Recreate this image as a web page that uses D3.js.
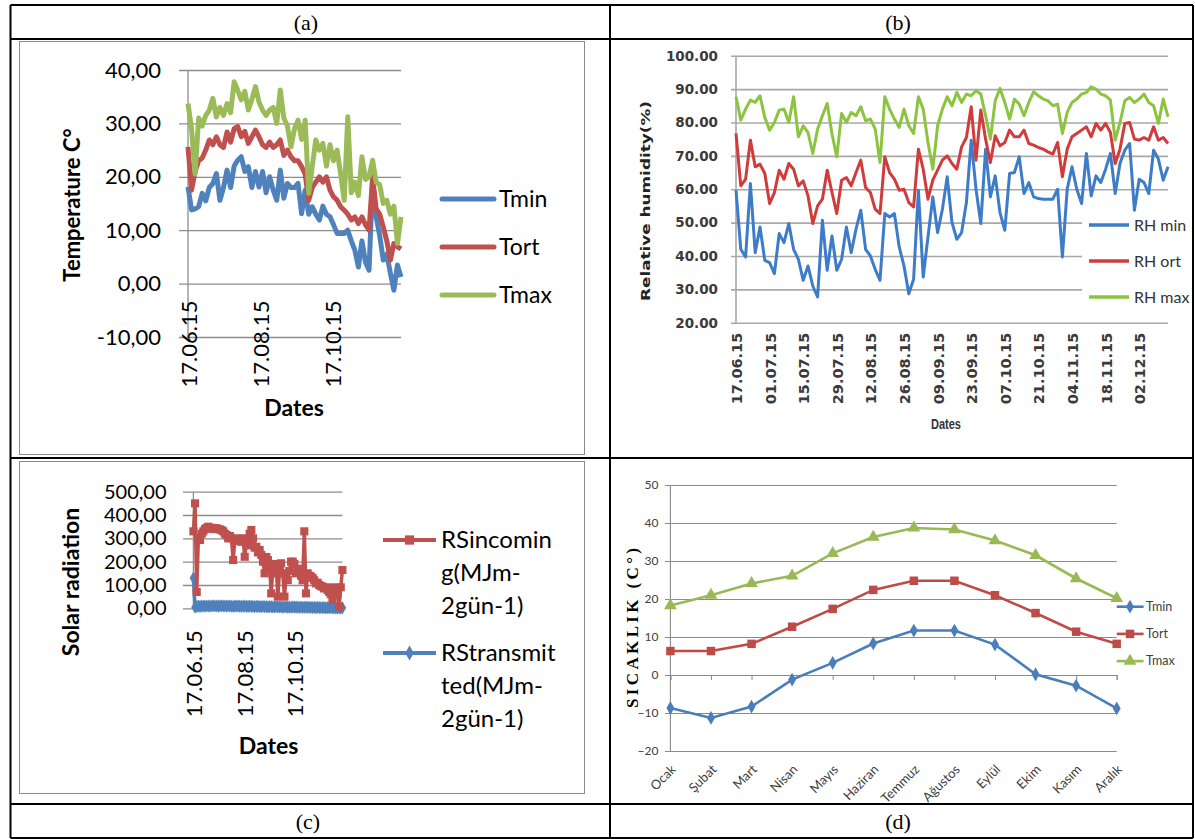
<!DOCTYPE html>
<html>
<head>
<meta charset="utf-8">
<script src="https://cdn.jsdelivr.net/npm/d3@7"></script>
<style>
  body { margin: 0; background: #fff; }
</style>
</head>
<body>
<div id="app"></div>
<script>
const width = 1195;
const height = 839;

// (a) daily temperatures, read every 3rd day from 17.06.15
const aDays = [0, 3, 6, 9, 12, 15, 18, 21, 24, 27, 30, 33, 36, 39, 42, 45, 48, 51, 54, 57, 60, 63, 66, 69, 72, 75, 78, 81, 84, 87,
  90, 93, 96, 99, 102, 105, 108, 111, 114, 117, 120, 123, 126, 129, 132, 135, 138, 141, 144, 147, 150, 153, 156, 159, 162, 165, 168, 171, 174, 177, 180];
const aTmax = [33.7, 29.0, 20.5, 31.0, 29.5, 31.5, 32.5, 34.7, 31.2, 33.0, 31.5, 33.7, 32.0, 37.8, 36.2, 34.4, 36.0, 32.5, 34.5, 36.9,
  34.0, 32.5, 31.5, 32.5, 33.0, 30.0, 36.25, 31.0, 29.5, 25.6, 29.0, 30.6, 27.0, 30.6, 16.9, 21.9, 26.9, 25.0, 26.25, 22.0,
  26.0, 23.0, 25.0, 20.5, 15.6, 31.25, 17.0, 19.0, 16.5, 23.75, 19.5, 20.0, 23.1, 19.0, 18.5, 15.0, 15.6, 13.0, 14.5, 7.5, 12.5];
const aTort = [25.6, 17.5, 21.0, 23.0, 23.5, 25.0, 26.9, 26.0, 27.5, 26.0, 25.5, 28.4, 26.5, 29.0, 29.4, 27.5, 28.5, 26.25, 27.5, 28.75,
  27.5, 26.0, 25.5, 26.5, 25.5, 26.0, 26.9, 24.0, 25.0, 23.75, 23.0, 23.0, 21.9, 20.5, 15.6, 18.0, 19.0, 20.0, 19.0, 20.0,
  17.5, 16.25, 15.6, 14.4, 13.75, 13.0, 11.9, 12.5, 11.25, 12.5, 11.0, 10.0, 20.0, 14.0, 13.0, 10.6, 8.0, 4.4, 7.5, 6.9, 6.5];
const aTmin = [18.1, 13.8, 14.0, 14.4, 16.9, 15.5, 18.0, 18.75, 20.6, 15.6, 18.0, 21.25, 18.0, 22.0, 23.1, 23.75, 21.0, 21.9, 18.0, 21.0,
  18.1, 21.0, 17.0, 20.0, 17.5, 15.6, 21.25, 16.0, 18.75, 18.0, 18.0, 18.75, 13.1, 17.5, 13.0, 14.4, 13.0, 11.9, 14.5, 13.0,
  12.5, 11.0, 9.4, 9.4, 9.4, 10.0, 8.0, 6.25, 3.1, 8.0, 4.0, 2.5, 19.4, 12.5, 9.0, 4.4, 5.5, 2.0, -1.25, 3.5, 1.25];
const aDateTicks = ['17.06.15', '17.08.15', '17.10.15'];
const aYTicks = [-10, 0, 10, 20, 30, 40];
const aNames = ['Tmin', 'Tort', 'Tmax'];

// (b) relative humidity, read every 2nd day from 17.06.15
const bcDays = [0, 2, 4, 6, 8, 10, 12, 14, 16, 18, 20, 22, 24, 26, 28, 30, 32, 34, 36, 38, 40, 42, 44, 46, 48, 50, 52, 54, 56, 58,
  60, 62, 64, 66, 68, 70, 72, 74, 76, 78, 80, 82, 84, 86, 88, 90, 92, 94, 96, 98, 100, 102, 104, 106, 108, 110, 112, 114, 116, 118,
  120, 122, 124, 126, 128, 130, 132, 134, 136, 138, 140, 142, 144, 146, 148, 150, 152, 154, 156, 158, 160, 162, 164, 166, 168, 170, 172, 174, 176, 178, 180];
const rhMax = [87.7, 80.7, 84.0, 86.7, 86.0, 88.0, 81.5, 77.7, 80.0, 83.7, 84.0, 80.0, 87.7, 75.7, 79.0, 77.0, 70.7, 78.0, 82.0, 85.7,
  76.5, 69.7, 82.7, 80.0, 83.0, 82.0, 84.7, 80.5, 81.0, 78.0, 68.0, 87.7, 84.0, 81.0, 78.5, 84.0, 79.0, 76.7, 87.7, 84.0,
  74.0, 66.0, 79.0, 84.0, 87.7, 85.0, 89.0, 86.0, 88.5, 88.0, 89.5, 88.5, 82.0, 75.0, 86.5, 90.2, 86.0, 81.0, 87.0, 85.5,
  82.0, 86.0, 89.2, 88.0, 87.0, 86.5, 85.0, 85.5, 76.7, 83.0, 86.0, 87.0, 88.5, 89.0, 90.7, 90.0, 88.5, 88.0, 86.7, 74.7,
  80.0, 86.5, 87.5, 86.0, 87.0, 88.5, 86.0, 85.0, 79.7, 87.0, 81.7];
const rhOrt = [76.7, 61.0, 63.0, 74.7, 66.7, 67.5, 64.7, 55.7, 59.0, 65.7, 63.0, 67.7, 66.0, 61.0, 62.5, 58.0, 49.7, 55.0, 57.0, 65.7,
  59.0, 52.7, 62.7, 63.5, 61.0, 65.0, 68.7, 60.5, 59.0, 54.0, 52.7, 69.7, 65.0, 63.0, 59.7, 60.0, 56.0, 54.7, 72.0, 66.0,
  57.0, 62.7, 65.7, 68.7, 70.0, 67.7, 66.0, 72.7, 75.5, 84.7, 68.7, 83.7, 75.0, 68.0, 76.0, 73.0, 74.0, 77.7, 75.7, 75.7,
  77.7, 73.7, 73.2, 72.5, 72.0, 71.2, 70.5, 74.0, 63.7, 72.0, 75.7, 76.7, 77.7, 78.7, 75.7, 79.7, 77.7, 79.7, 77.0, 67.7,
  72.0, 79.7, 80.0, 75.0, 74.7, 75.5, 74.7, 78.7, 74.7, 75.5, 73.7];
const rhMin = [59.7, 42.0, 39.7, 61.7, 41.0, 48.7, 38.7, 38.0, 34.7, 46.7, 44.0, 49.7, 42.0, 39.0, 32.7, 37.0, 31.0, 27.7, 50.7, 35.7,
  46.0, 35.7, 39.0, 48.7, 41.0, 48.0, 53.7, 42.0, 40.0, 36.0, 32.7, 52.7, 51.7, 52.7, 42.7, 37.0, 28.7, 33.0, 59.7, 33.7,
  45.7, 57.7, 47.0, 54.0, 63.7, 50.0, 45.0, 47.0, 56.0, 74.7, 60.0, 49.7, 72.0, 57.7, 64.0, 53.0, 47.7, 64.7, 65.0, 69.7,
  58.7, 62.0, 57.7, 57.2, 57.0, 57.0, 57.0, 60.0, 39.7, 60.0, 66.7, 60.0, 55.7, 70.7, 58.0, 64.0, 62.0, 66.0, 70.7, 58.7,
  67.7, 71.7, 73.7, 53.7, 63.0, 62.0, 58.7, 71.7, 69.0, 62.7, 66.7];
const bDateTicks = ['17.06.15', '01.07.15', '15.07.15', '29.07.15', '12.08.15', '26.08.15', '09.09.15',
  '23.09.15', '07.10.15', '21.10.15', '04.11.15', '18.11.15', '02.12.15'];
const bYTicks = [20, 30, 40, 50, 60, 70, 80, 90, 100];
const bNames = ['RH min', 'RH ort', 'RH max'];

// (c) solar radiation, same day grid as (b)
const rsIncoming = [330, 450, 70, 300, 293, 320, 330, 340, 345, 350, 345, 345, 340, 343, 343, 340, 338, 335, 330, 320,
  314, 300, 310, 300, 207, 290, 300, 295, 290, 285, 300, 221, 280, 270, 320, 336, 300, 260, 264, 240,
  250, 229, 200, 150, 220, 207, 180, 64, 170, 150, 190, 50, 160, 193, 150, 50, 140, 121, 160, 200,
  200, 190, 150, 170, 160, 140, 120, 330, 64, 150, 140, 136, 130, 120, 107, 110, 100, 95, 93, 85,
  90, 79, 70, 60, 36, 90, 80, 60, 7, 90, 164];
const rsTransmitted = [130, 5, 8, 9, 8, 9, 10, 9, 10, 10, 9, 10, 11, 10, 10, 9, 10, 11, 10, 10,
  9, 10, 10, 9, 8, 9, 10, 9, 9, 8, 9, 9, 8, 8, 9, 8, 8, 7, 8, 8,
  7, 7, 8, 7, 7, 6, 7, 7, 6, 6, 7, 6, 6, 6, 5, 6, 6, 5, 5, 5,
  6, 5, 5, 5, 4, 5, 4, 4, 5, 4, 4, 4, 3, 4, 3, 4, 3, 3, 3, 3,
  2, 3, 2, 3, 2, 2, 2, 1, 2, 1, 2];
const cYTicks = [0, 100, 200, 300, 400, 500];
const cLegend = [['RSincomin', 'g(MJm-', '2gün-1)'], ['RStransmit', 'ted(MJm-', '2gün-1)']];

// (d) monthly temperatures
const months = ['Ocak', 'Şubat', 'Mart', 'Nisan', 'Mayıs', 'Haziran', 'Temmuz', 'Ağustos', 'Eylül', 'Ekim', 'Kasım', 'Aralık'];
const dTmin = [-8.7, -11.3, -8.3, -1.2, 3.2, 8.3, 11.7, 11.7, 8.0, 0.2, -2.8, -8.8];
const dTort = [6.3, 6.3, 8.2, 12.7, 17.4, 22.4, 24.8, 24.8, 21.0, 16.3, 11.4, 8.2];
const dTmax = [18.3, 21.0, 24.1, 26.1, 32.0, 36.3, 38.7, 38.3, 35.4, 31.5, 25.4, 20.2];
const dYTicks = [-20, -10, 0, 10, 20, 30, 40, 50];

const startDate = new Date(2015, 5, 17);
const toDate = (d) => d3.timeDay.offset(startDate, d);
const parseDate = d3.timeParse('%d.%m.%y');
const fmtDate = d3.timeFormat('%d.%m.%y');
const trLocale = d3.formatLocale({decimal: ',', thousands: '.', grouping: [3], currency: ['', ''], minus: '-'});
const fmtComma = trLocale.format('.2f');
const fmtDot = d3.format('.2f');

const svg = d3.select('#app').append('svg')
  .attr('width', width)
  .attr('height', height)
  .style('font-family', 'Lato, sans-serif');

svg.append('rect').attr('width', width).attr('height', height).attr('fill', '#fff');

function grid(g, y, ticks, x0, x1, pad, fmt, color, sw) {
  const ax = g.append('g')
    .attr('transform', `translate(${x0},0)`)
    .call(d3.axisLeft(y).tickValues(ticks).tickSize(-(x1 - x0)).tickPadding(pad).tickFormat(fmt));
  ax.select('.domain').remove();
  ax.selectAll('line').attr('stroke', color).attr('stroke-width', sw);
  ax.attr('font-family', null).attr('font-size', null);
  return ax;
}

function dateLabels(g, x, yPos, ticks, pad, fmt) {
  const ax = g.append('g')
    .attr('transform', `translate(0,${yPos})`)
    .call(d3.axisBottom(x).tickValues(ticks.map(parseDate)).tickSize(0).tickFormat(fmt));
  ax.select('.domain').remove();
  ax.attr('font-family', null).attr('font-size', null);
  ax.selectAll('text')
    .attr('transform', 'rotate(-90)')
    .attr('text-anchor', 'end')
    .attr('x', -pad)
    .attr('y', 0)
    .attr('dy', '0.38em');
  return ax;
}

function series(g, x, y, days, values, color, w) {
  return g.append('path')
    .datum(values)
    .attr('fill', 'none')
    .attr('stroke', color)
    .attr('stroke-width', w)
    .attr('stroke-linejoin', 'round')
    .attr('d', d3.line().x((v, i) => x(toDate(days[i]))).y((v) => y(v)));
}

// ---------- (a) ----------
const aColors = ['#4f81bd', '#c0504d', '#9bbb59'];
const ga = svg.append('g');
ga.append('rect').attr('x', 19.5).attr('y', 41.5).attr('width', 565).attr('height', 413)
  .attr('fill', '#fff').attr('stroke', '#8c8c8c');
const xa = d3.scaleTime().domain([toDate(0), toDate(180)]).range([188, 401]);
const ya = d3.scaleLinear().domain([-10, 40]).range([337, 70]);
grid(ga, ya, aYTicks, 179, 401, 18, fmtComma, '#8c8c8c', 1.3)
  .selectAll('text').attr('font-size', 22).attr('fill', '#000');
ga.append('line').attr('x1', 188).attr('x2', 188).attr('y1', 70).attr('y2', 337)
  .attr('stroke', '#8c8c8c').attr('stroke-width', 1.3);
dateLabels(ga, xa, ya(0), aDateTicks, 17, fmtDate)
  .selectAll('text').attr('font-size', 22).attr('fill', '#000');
[aTmin, aTort, aTmax].forEach((vals, i) => series(ga, xa, ya, aDays, vals, aColors[i], 5));
ga.append('text').attr('transform', 'translate(72,205) rotate(-90)')
  .attr('text-anchor', 'middle').attr('dy', '0.35em')
  .attr('font-size', 22).attr('font-weight', 'bold').text('Temperature C°');
ga.append('text').attr('x', 294).attr('y', 408).attr('text-anchor', 'middle').attr('dy', '0.35em')
  .attr('font-size', 23).attr('font-weight', 'bold').text('Dates');
aNames.forEach((name, i) => {
  const ly = 199 + i * 48;
  ga.append('line').attr('x1', 442).attr('x2', 494).attr('y1', ly).attr('y2', ly)
    .attr('stroke', aColors[i]).attr('stroke-width', 5).attr('stroke-linecap', 'round');
  ga.append('text').attr('x', 499).attr('y', ly).attr('dy', '0.35em').attr('font-size', 23).text(name);
});

// ---------- (b) ----------
const bColors = ['#3d7cc9', '#d03c3c', '#8cc43f'];
const gb = svg.append('g');
const xb = d3.scaleTime().domain([toDate(0), toDate(180)]).range([736, 1168]);
const yb = d3.scaleLinear().domain([20, 100]).range([322.7, 55.7]);
grid(gb, yb, bYTicks, 731, 1168, 13, fmtDot, '#a8a8a8', 1.6)
  .selectAll('text').attr('font-family', 'DejaVu Sans').attr('font-size', 13.5)
  .attr('font-weight', 'bold').attr('fill', '#3a3a3a');
gb.append('line').attr('x1', 736).attr('x2', 736).attr('y1', 55.7).attr('y2', 322.7)
  .attr('stroke', '#a8a8a8').attr('stroke-width', 1.6);
dateLabels(gb, xb, yb(20), bDateTicks, 10, fmtDate)
  .selectAll('text').attr('font-family', 'DejaVu Sans').attr('font-size', 14.5)
  .attr('font-weight', 'bold').attr('fill', '#3a3a3a');
gb.append('rect').attr('x', 1082).attr('y', 205).attr('width', 113).attr('height', 110).attr('fill', '#fff');
[rhMin, rhOrt, rhMax].forEach((vals, i) => series(gb, xb, yb, bcDays, vals, bColors[i], 3));
gb.append('text').attr('transform', 'translate(646,201) rotate(-90)')
  .attr('text-anchor', 'middle').attr('dy', '0.35em')
  .attr('font-family', 'DejaVu Sans').attr('font-size', 12.5).attr('font-weight', 'bold').attr('fill', '#222')
  .attr('textLength', 200).attr('lengthAdjust', 'spacingAndGlyphs')
  .text('Relative humidity(%)');
gb.append('text').attr('x', 946).attr('y', 424).attr('text-anchor', 'middle').attr('dy', '0.35em')
  .attr('font-family', 'Liberation Sans Narrow, Liberation Sans').attr('font-size', 14).attr('font-weight', 'bold')
  .attr('fill', '#333').attr('textLength', 30).attr('lengthAdjust', 'spacingAndGlyphs').text('Dates');
bNames.forEach((name, i) => {
  const ly = 225 + i * 36;
  gb.append('line').attr('x1', 1089).attr('x2', 1129).attr('y1', ly).attr('y2', ly)
    .attr('stroke', bColors[i]).attr('stroke-width', 3.5);
  gb.append('text').attr('x', 1134).attr('y', ly).attr('dy', '0.35em').attr('font-size', 16)
    .attr('fill', '#333').text(name);
});

// ---------- (c) ----------
const cColors = ['#c0504d', '#4f81bd'];
const gc = svg.append('g');
gc.append('rect').attr('x', 19.5).attr('y', 461.5).attr('width', 565).attr('height', 332)
  .attr('fill', '#fff').attr('stroke', '#8c8c8c');
const xc = d3.scaleTime().domain([toDate(0), toDate(180)]).range([193.4, 342.4]);
const yc = d3.scaleLinear().domain([0, 500]).range([608.3, 491.7]);
grid(gc, yc, cYTicks, 183, 342.4, 16.5, fmtComma, '#8c8c8c', 1.3)
  .selectAll('text').attr('font-size', 20).attr('fill', '#000');
gc.append('line').attr('x1', 193.4).attr('x2', 193.4).attr('y1', 491.7).attr('y2', 608.3)
  .attr('stroke', '#8c8c8c').attr('stroke-width', 1.3);
dateLabels(gc, xc, yc(0), aDateTicks, 22, fmtDate)
  .selectAll('text').attr('font-size', 22).attr('fill', '#000');
const cSymbols = [d3.symbolSquare, d3.symbolDiamond];
const cSizes = [66, 50];
[rsTransmitted, rsIncoming].forEach((vals, j) => {
  const i = 1 - j;
  series(gc, xc, yc, bcDays, vals, cColors[i], 3.5);
  gc.append('g').selectAll('path')
    .data(vals)
    .join('path')
    .attr('transform', (v, k) => `translate(${xc(toDate(bcDays[k]))},${yc(v)})`)
    .attr('d', d3.symbol(cSymbols[i], cSizes[i]))
    .attr('fill', cColors[i]);
});
gc.append('text').attr('transform', 'translate(71,582) rotate(-90)')
  .attr('text-anchor', 'middle').attr('dy', '0.35em')
  .attr('font-size', 23).attr('font-weight', 'bold').text('Solar radiation');
gc.append('text').attr('x', 268.5).attr('y', 746).attr('text-anchor', 'middle').attr('dy', '0.35em')
  .attr('font-size', 23).attr('font-weight', 'bold').text('Dates');
cLegend.forEach((lines, i) => {
  const ly = 540 + i * 113;
  gc.append('line').attr('x1', 383).attr('x2', 436).attr('y1', ly).attr('y2', ly)
    .attr('stroke', cColors[i]).attr('stroke-width', 4);
  gc.append('path').attr('transform', `translate(409.5,${ly})`)
    .attr('d', d3.symbol(cSymbols[i], cSizes[i] * 1.3)).attr('fill', cColors[i]);
  lines.forEach((t, k) => {
    gc.append('text').attr('x', 441).attr('y', ly + k * 33).attr('dy', '0.35em')
      .attr('font-size', 24).text(t);
  });
});

// ---------- (d) ----------
const dColors = ['#4a7ebb', '#be4b48', '#98b954'];
const dSymbols = [d3.symbolDiamond, d3.symbolSquare, d3.symbolTriangle];
const dSizes = [55, 72, 70];
const gd = svg.append('g');
const xd = d3.scalePoint().domain(months).range([670.4, 1116.7]);
const yd = d3.scaleLinear().domain([-20, 50]).range([751, 485]);
grid(gd, yd, dYTicks, 665, 1116.7, 6.5, d3.format('d'), '#8a8a8a', 1.1)
  .selectAll('text').attr('font-size', 12).attr('fill', '#404040');
gd.append('line').attr('x1', 670.4).attr('x2', 670.4).attr('y1', 485).attr('y2', 751)
  .attr('stroke', '#8a8a8a').attr('stroke-width', 1.1);
const xAxisD = gd.append('g')
  .attr('transform', `translate(0,${yd(0)})`)
  .call(d3.axisBottom(xd).tickSize(5).tickFormat(''));
xAxisD.select('.domain').attr('stroke', '#8a8a8a');
xAxisD.selectAll('line').attr('stroke', '#8a8a8a');
gd.append('g').selectAll('text')
  .data(months)
  .join('text')
  .attr('transform', (m) => `translate(${xd(m) + 3},${yd(-20) + 16}) rotate(-45)`)
  .attr('text-anchor', 'end')
  .attr('dy', '0.35em')
  .attr('font-size', 13)
  .attr('fill', '#404040')
  .text((m) => m);
[dTmin, dTort, dTmax].forEach((vals, i) => {
  gd.append('path')
    .datum(vals)
    .attr('fill', 'none')
    .attr('stroke', dColors[i])
    .attr('stroke-width', 2.6)
    .attr('d', d3.line().x((v, k) => xd(months[k])).y((v) => yd(v)));
  gd.append('g').selectAll('path')
    .data(vals)
    .join('path')
    .attr('transform', (v, k) => `translate(${xd(months[k])},${yd(v)})`)
    .attr('d', d3.symbol(dSymbols[i], dSizes[i]))
    .attr('fill', dColors[i]);
});
gd.append('text').attr('transform', 'translate(632,628) rotate(-90)')
  .attr('text-anchor', 'middle').attr('dy', '0.35em')
  .attr('font-family', 'Liberation Serif').attr('font-size', 17).attr('font-weight', 'bold')
  .attr('textLength', 160).attr('lengthAdjust', 'spacing')
  .text('SICAKLIK (C°)');
aNames.forEach((name, i) => {
  const ly = 606.7 + i * 27.2;
  gd.append('line').attr('x1', 1116.7).attr('x2', 1143.6).attr('y1', ly).attr('y2', ly)
    .attr('stroke', dColors[i]).attr('stroke-width', 2.6);
  gd.append('path').attr('transform', `translate(1130,${ly})`)
    .attr('d', d3.symbol(dSymbols[i], dSizes[i])).attr('fill', dColors[i]);
  gd.append('text').attr('x', 1146).attr('y', ly).attr('dy', '0.35em').attr('font-size', 12.5)
    .attr('fill', '#404040').text(name);
});

// ---------- table frame ----------
const frame = svg.append('g').attr('stroke', '#000').attr('stroke-width', 2);
[[10.5, 5, 10.5, 838], [610, 5, 610, 838], [1193, 5, 1193, 838],
  [10.5, 5, 1193, 5], [10.5, 39, 1193, 39], [10.5, 458, 1193, 458], [10.5, 804, 1193, 804], [10.5, 838, 1193, 838]]
  .forEach(([x1, y1, x2, y2]) => frame.append('line').attr('x1', x1).attr('y1', y1).attr('x2', x2).attr('y2', y2));

const captions = svg.append('g').attr('font-family', 'Liberation Serif').attr('font-size', 22).attr('text-anchor', 'middle');
[['(a)', 306, 22], ['(b)', 898, 22], ['(c)', 308, 821], ['(d)', 898, 821]].forEach(([t, x, y]) => {
  captions.append('text').attr('x', x).attr('y', y).attr('dy', '0.35em').text(t);
});
</script>
</body>
</html>
